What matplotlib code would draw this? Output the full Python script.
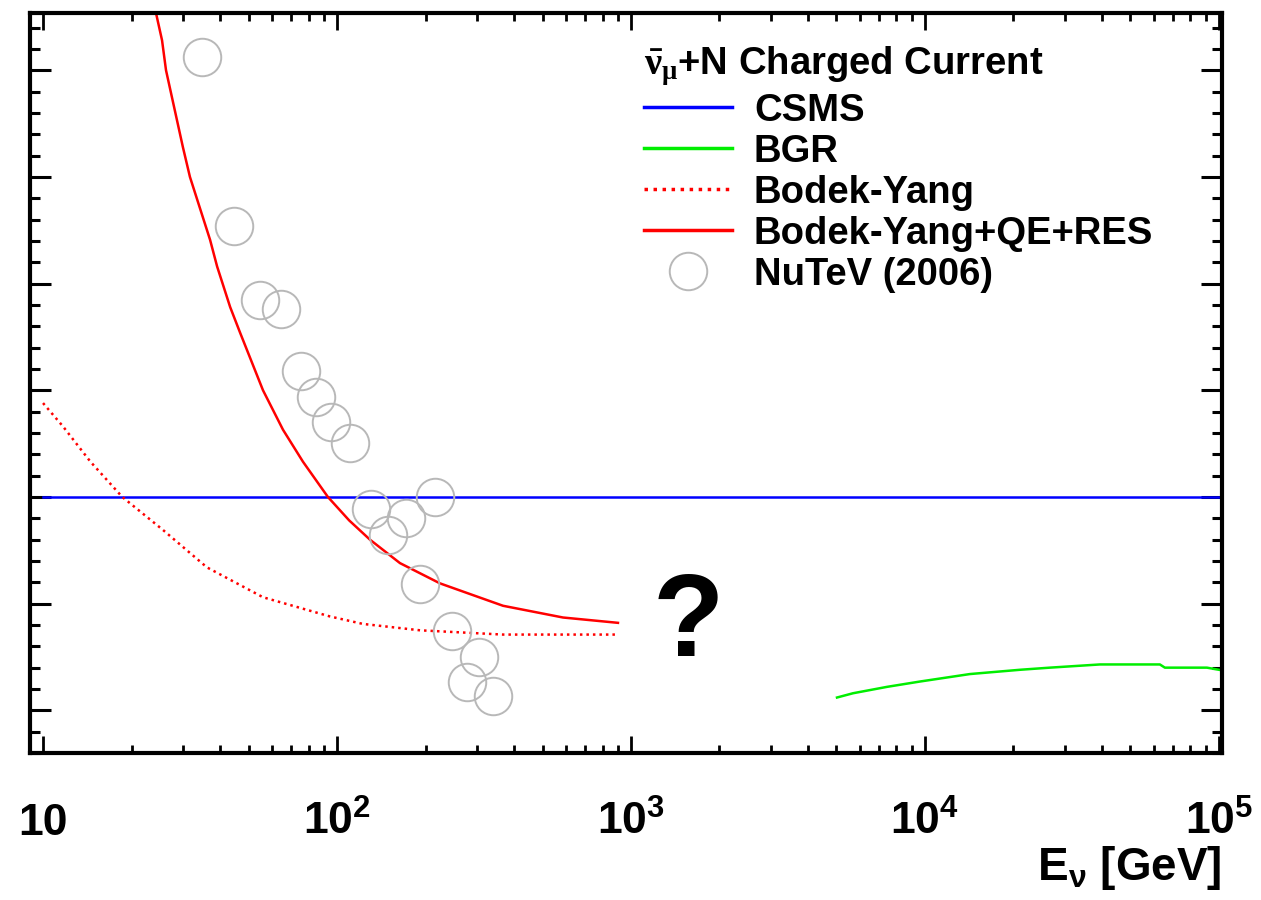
import numpy as np
import matplotlib
matplotlib.use("Agg")
import matplotlib.pyplot as plt
from matplotlib.ticker import MultipleLocator, LogLocator, NullFormatter

plt.rcParams['font.family'] = ['Liberation Sans', 'DejaVu Sans']
plt.rcParams['font.weight'] = 'bold'
plt.rcParams['mathtext.fontset'] = 'custom'
plt.rcParams['mathtext.bf'] = 'Liberation Sans:bold'
plt.rcParams['mathtext.rm'] = 'Liberation Serif'
plt.rcParams['mathtext.it'] = 'Liberation Serif:italic'

# CSMS reference (ratio = 1)
csms_e = [10, 1e5]
csms_r = [1.0, 1.0]

# BGR
bgr_e = [5020, 5690, 7430, 9620, 14220, 21040, 26600, 39360, 62950, 65460, 91000, 100000]
bgr_r = [0.812, 0.816, 0.822, 0.827, 0.834, 0.838, 0.840, 0.843, 0.843, 0.840, 0.840, 0.838]

# Bodek-Yang (DIS only)
by_e = [10, 11.7, 14.5, 18.6, 25.6, 36.1, 56.0, 94.6, 122.4, 191.6, 367, 903]
by_r = [1.088, 1.066, 1.033, 1.000, 0.969, 0.934, 0.906, 0.888, 0.881, 0.875, 0.871, 0.871]

# Bodek-Yang + QE + RES
byfull_e = [23.5, 25.4, 26.2, 29.9, 31.6, 37.0, 39.1, 43.3, 46.8, 56.0, 65.5, 76.6,
            93.1, 110, 129.4, 163.7, 224, 290, 367, 587, 903]
byfull_r = [1.47, 1.428, 1.400, 1.328, 1.300, 1.241, 1.216, 1.178, 1.154, 1.100, 1.063, 1.033,
            1.000, 0.978, 0.960, 0.938, 0.919, 0.908, 0.898, 0.887, 0.882]

# NuTeV (2006)
nutev_e = [34.8, 44.7, 54.7, 64.6, 75.5, 84.9, 95.5, 110.8, 130.5, 149, 171.6,
           191.6, 215.5, 246, 277, 304, 340]
nutev_r = [1.412, 1.254, 1.185, 1.176, 1.118, 1.094, 1.070, 1.051, 0.989, 0.964, 0.980,
           0.918, 1.000, 0.874, 0.827, 0.850, 0.813]

xticks = [10, 1e2, 1e3, 1e4, 1e5]
xticklabels = ['10', r'$\mathbf{10^{2}}$', r'$\mathbf{10^{3}}$', r'$\mathbf{10^{4}}$', r'$\mathbf{10^{5}}$']

fig = plt.figure(figsize=(12.61, 9), dpi=100)
ax = fig.add_axes([30 / 1261, 1 - 753 / 900, 1192 / 1261, 740 / 900])

ax.plot(csms_e, csms_r, color='#0000ff', lw=1.8, label='CSMS')
ax.plot(bgr_e, bgr_r, color='#00ee00', lw=1.8, label='BGR')
ax.plot(by_e, by_r, color='#ff0000', lw=1.8, ls=(0, (1, 1.6)), label='Bodek-Yang')
ax.plot(byfull_e, byfull_r, color='#ff0000', lw=1.8, label='Bodek-Yang+QE+RES')
ax.plot(nutev_e, nutev_r, ls='none', marker='o', ms=27, mfc='none', mec='#b8b8b8',
        mew=1.4, label='NuTeV (2006)')

ax.set_xscale('log')
ax.set_xlim(9.03, 1.024e5)
ax.set_ylim(0.760, 1.4536)

ax.set_xticks(xticks)
ax.set_xticklabels(xticklabels)
ax.xaxis.set_minor_locator(LogLocator(base=10, subs=np.arange(2, 10)))
ax.xaxis.set_minor_formatter(NullFormatter())
ax.yaxis.set_major_locator(MultipleLocator(0.1))
ax.yaxis.set_minor_locator(MultipleLocator(0.02))

for s in ax.spines.values():
    s.set_linewidth(3)
ax.tick_params(axis='x', which='major', direction='in', length=12, width=2,
               top=True, bottom=True, labelsize=32, pad=59)
ax.tick_params(axis='x', which='minor', direction='in', length=6, width=2, top=True, bottom=True)
ax.tick_params(axis='y', which='major', direction='in', length=15, width=2.2,
               left=True, right=True, labelleft=False)
ax.tick_params(axis='y', which='minor', direction='in', length=7.5, width=2.2, left=True, right=True)
for lab in ax.get_xticklabels():
    lab.set_va('baseline')

ax.set_xlabel(r'$\mathbf{E_{\nu}}$ [GeV]', fontsize=33, fontweight='bold', va='baseline', ha='right')
ax.xaxis.set_label_coords(1.0, -(880 - 753) / 740)

ax.text(0.552, 0.172, '?', transform=ax.transAxes, fontsize=84, fontweight='bold',
        ha='center', va='center')

leg = ax.legend(title=r'$\bar{\mathrm{\nu}}_{\mathrm{\mu}}$+N Charged Current', loc='upper left',
                bbox_to_anchor=(0.515, 0.958), frameon=False, fontsize=27.5,
                title_fontproperties={'weight': 'bold', 'size': 27.5},
                handlelength=2.3, handletextpad=0.58, labelspacing=0.13,
                borderpad=0, borderaxespad=0, markerscale=1.0)
leg._legend_box.align = 'left'
for line in leg.get_lines():
    line.set_linewidth(2.5)

fig.savefig('out.png', dpi=100)
